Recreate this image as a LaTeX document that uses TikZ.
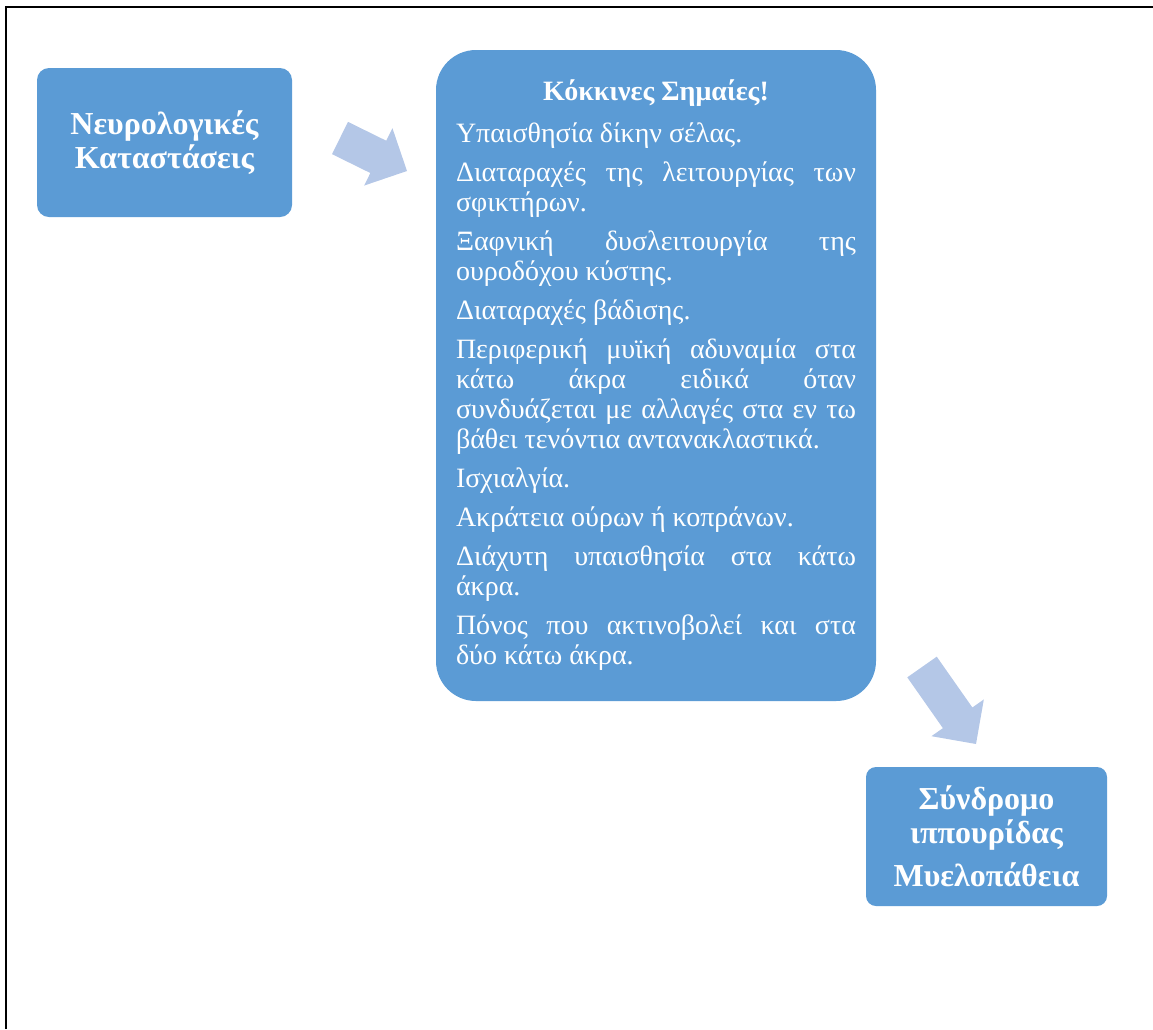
\documentclass[tikz,border=0pt]{standalone}
\usepackage{fontspec}
\setmainfont{Liberation Serif}
\usepackage{xcolor}
\usetikzlibrary{positioning, calc}
\hyphenpenalty=10000
\exhyphenpenalty=10000

\definecolor{boxblue}{HTML}{5B9BD5}
\definecolor{arrowblue}{HTML}{B4C7E7}

% flecha ancha entre dos puntos (cola, punta)
\newcommand{\blockarrow}[2]{%
    \coordinate (base) at ($(#2)!32pt!(#1)$);
    \fill[arrowfill] ($(#1)!18pt!90:(#2)$) -- ($(base)!18pt!90:(#2)$) -- ($(base)!32pt!90:(#2)$)
        -- (#2) -- ($(base)!32pt!-90:(#2)$) -- ($(base)!18pt!-90:(#2)$) -- ($(#1)!18pt!-90:(#2)$) -- cycle;
}

\begin{document}
\begin{tikzpicture}[
        x=1pt, y=-1pt,
        box/.style={rectangle, fill=boxblue, text=white, inner sep=0pt, align=center},
        arrowfill/.style={fill=arrowblue, draw=none}
    ]

        \useasboundingbox (0,0) rectangle (1153,1029);
        \draw[line width=2pt] (6,1029) -- (6,7) -- (1153,7);

        % ================= NODOS =================

        % Entrada
        \node[box, rounded corners=12pt, minimum width=255pt, minimum height=149pt,
              font=\fontsize{32}{34}\selectfont\bfseries] (neuro) at (164.5,142.5)
              {Νευρολογικές\\Καταστάσεις};

        % Banderas rojas
        \node[box, rounded corners=40pt, minimum width=440pt, minimum height=651pt,
              text width=400pt, align=justify,
              font=\fontsize{28}{30}\selectfont] (flags) at (656,375.5)
              {\parindent=0pt\parskip=9pt
               \spaceskip=.25em plus .6em minus .12em
               {\centering\bfseries Κόκκινες Σημαίες!\par}
               \vspace{3pt}
               Υπαισθησία δίκην σέλας.\par
               Διαταραχές της λειτουργίας των\linebreak σφικτήρων.\par
               Ξαφνική δυσλειτουργία της\linebreak ουροδόχου κύστης.\par
               Διαταραχές βάδισης.\par
               Περιφερική μυϊκή αδυναμία στα\linebreak κάτω άκρα ειδικά όταν\linebreak συνδυάζεται με αλλαγές στα εν τω\linebreak βάθει τενόντια αντανακλαστικά.\par
               Ισχιαλγία.\par
               Ακράτεια ούρων ή κοπράνων.\par
               Διάχυτη υπαισθησία στα κάτω\linebreak άκρα.\par
               Πόνος που ακτινοβολεί και στα\linebreak δύο κάτω άκρα.\par};

        % Salida
        \node[box, rounded corners=10pt, minimum width=241pt, minimum height=139pt,
              font=\fontsize{32}{34}\selectfont\bfseries] (syndrome) at (986.5,836.5)
              {Σύνδρομο\\ιππουρίδας\\[9pt]Μυελοπάθεια};

        % ================= FLECHAS =================

        \coordinate (a1tail) at (340,138);
        \coordinate (a1tip) at (407,171);
        \coordinate (a2tail) at (922,667);
        \coordinate (a2tip) at (976,744);

        \blockarrow{a1tail}{a1tip}
        \blockarrow{a2tail}{a2tip}

    \end{tikzpicture}
\end{document}
